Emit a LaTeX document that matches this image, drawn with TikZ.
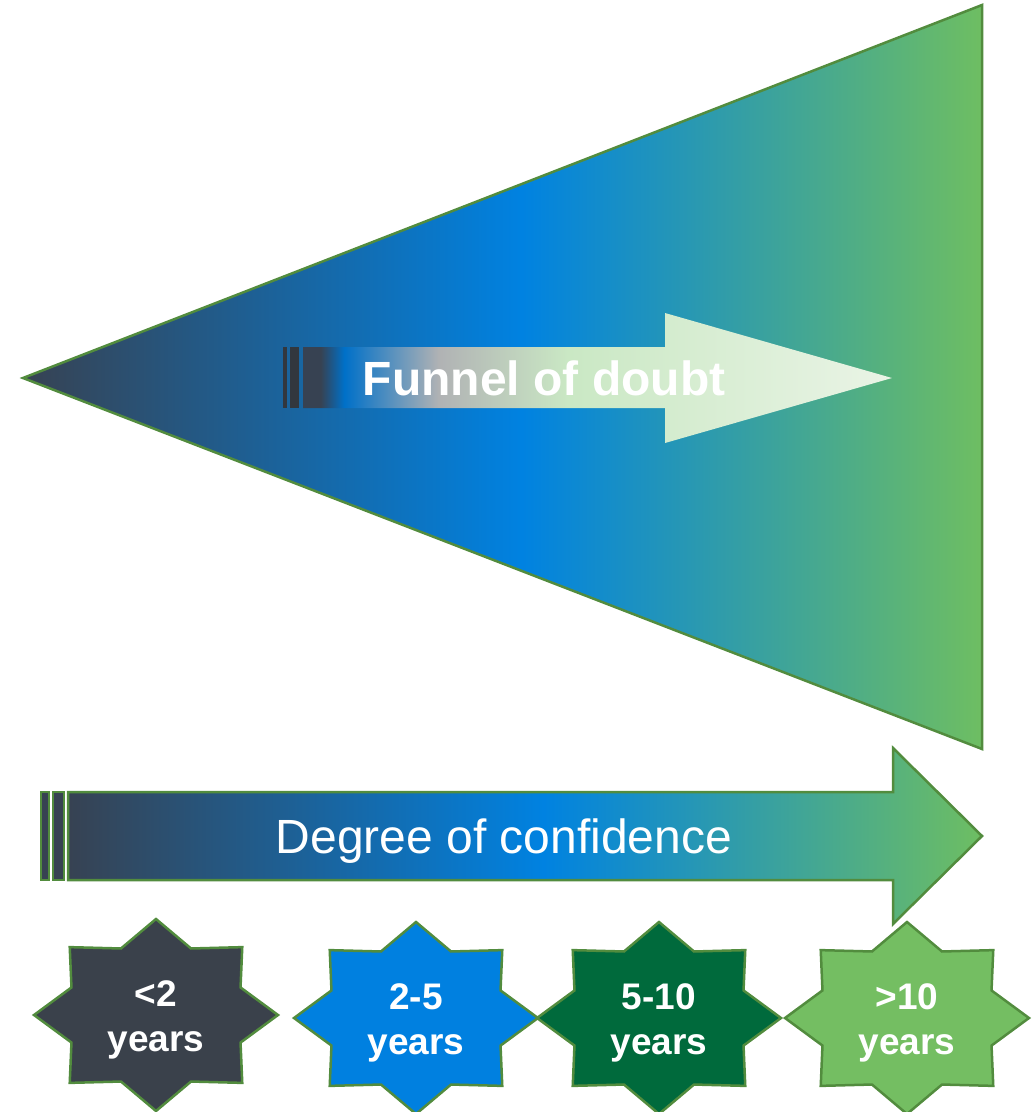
\documentclass[tikz,border=0pt]{standalone}
\usepackage{fontspec}
\setmainfont{Liberation Sans}
\definecolor{slate}{RGB}{55,66,82}
\definecolor{skyblue}{RGB}{0,130,225}
\definecolor{leafgreen}{RGB}{110,190,98}
\definecolor{edgegreen}{RGB}{82,140,62}
\definecolor{darkbar}{RGB}{50,55,62}
\definecolor{doubtblue}{RGB}{0,112,200}
\definecolor{doubtgrey}{RGB}{176,178,180}
\definecolor{palegreen}{RGB}{202,232,196}
\definecolor{mistgreen}{RGB}{234,244,230}
\definecolor{starslate}{RGB}{58,65,75}
\definecolor{starblue}{RGB}{0,128,224}
\definecolor{stardark}{RGB}{0,106,60}
\definecolor{starlight}{RGB}{116,190,98}
\pgfdeclarehorizontalshading{confidence}{100bp}{color(0bp)=(slate); color(25bp)=(slate); color(51bp)=(skyblue); color(75bp)=(leafgreen); color(100bp)=(leafgreen)}
\pgfdeclarehorizontalshading{doubt}{100bp}{color(0bp)=(slate); color(25bp)=(slate); color(26.5bp)=(slate); color(28.5bp)=(doubtblue); color(36.5bp)=(doubtgrey); color(47.5bp)=(palegreen); color(75bp)=(mistgreen); color(100bp)=(mistgreen)}
\tikzset{
  greenline/.style={draw=edgegreen, line width=2.5pt, line join=miter},
  startext/.style={text=white, align=center, font=\bfseries\fontsize{37}{45}\selectfont},
}
% one eight-pointed star with its label
\newcommand{\yearstar}[5]{%
  \filldraw[greenline, fill=#4] plot[samples at={0,...,15}] ({#2+122*(1-0.25*mod(\x,2))*cos(\x*22.5)}, {#3-96*(1-0.25*mod(\x,2))*sin(\x*22.5)}) -- cycle;
  \node[startext] (#1) at (#2,#3+5) {#5};}
\begin{document}
\begin{tikzpicture}[x=1pt,y=-1pt]
\useasboundingbox (0,0) rectangle (1033,1112);
% Define the funnel and the two arrows
\def\funnel{(23,378) -- (982,5) -- (982,749) -- cycle}
\def\confarrow{(68,792) -- (893,792) -- (893,748) -- (982,836) -- (893,924) -- (893,880) -- (68,880) -- cycle}
\def\doubtarrow{(303,347) -- (665,347) -- (665,313) -- (892,378) -- (665,443) -- (665,408) -- (303,408) -- cycle}
% Shade the funnel
\shadedraw[greenline, shading=confidence] \funnel;
% Arrow inside the funnel
\fill[darkbar] (283,347) rectangle (287,408);
\fill[darkbar] (290,347) rectangle (299,408);
\shade[shading=doubt] \doubtarrow;
\node[text=white, anchor=base, font=\bfseries\fontsize{48}{57}\selectfont] (doubt) at (544,395) {Funnel of doubt};
% Arrow below the funnel
\filldraw[greenline, line width=2pt, fill=slate] (41,792) rectangle (49,880);
\filldraw[greenline, line width=2pt, fill=slate] (53,792) rectangle (64,880);
\shadedraw[greenline, shading=confidence] \confarrow;
\node[text=white, anchor=base, font=\fontsize{48}{57}\selectfont] (degree) at (504,853) {Degree of confidence};
% The four time spans
\yearstar{lesstwo}{156}{1015}{starslate}{<2\\years}
\yearstar{twofive}{416}{1018}{starblue}{2-5\\years}
\yearstar{fiveten}{659}{1018}{stardark}{5-10\\years}
\yearstar{moreten}{907}{1018}{starlight}{>10\\years}
\end{tikzpicture}
\end{document}
